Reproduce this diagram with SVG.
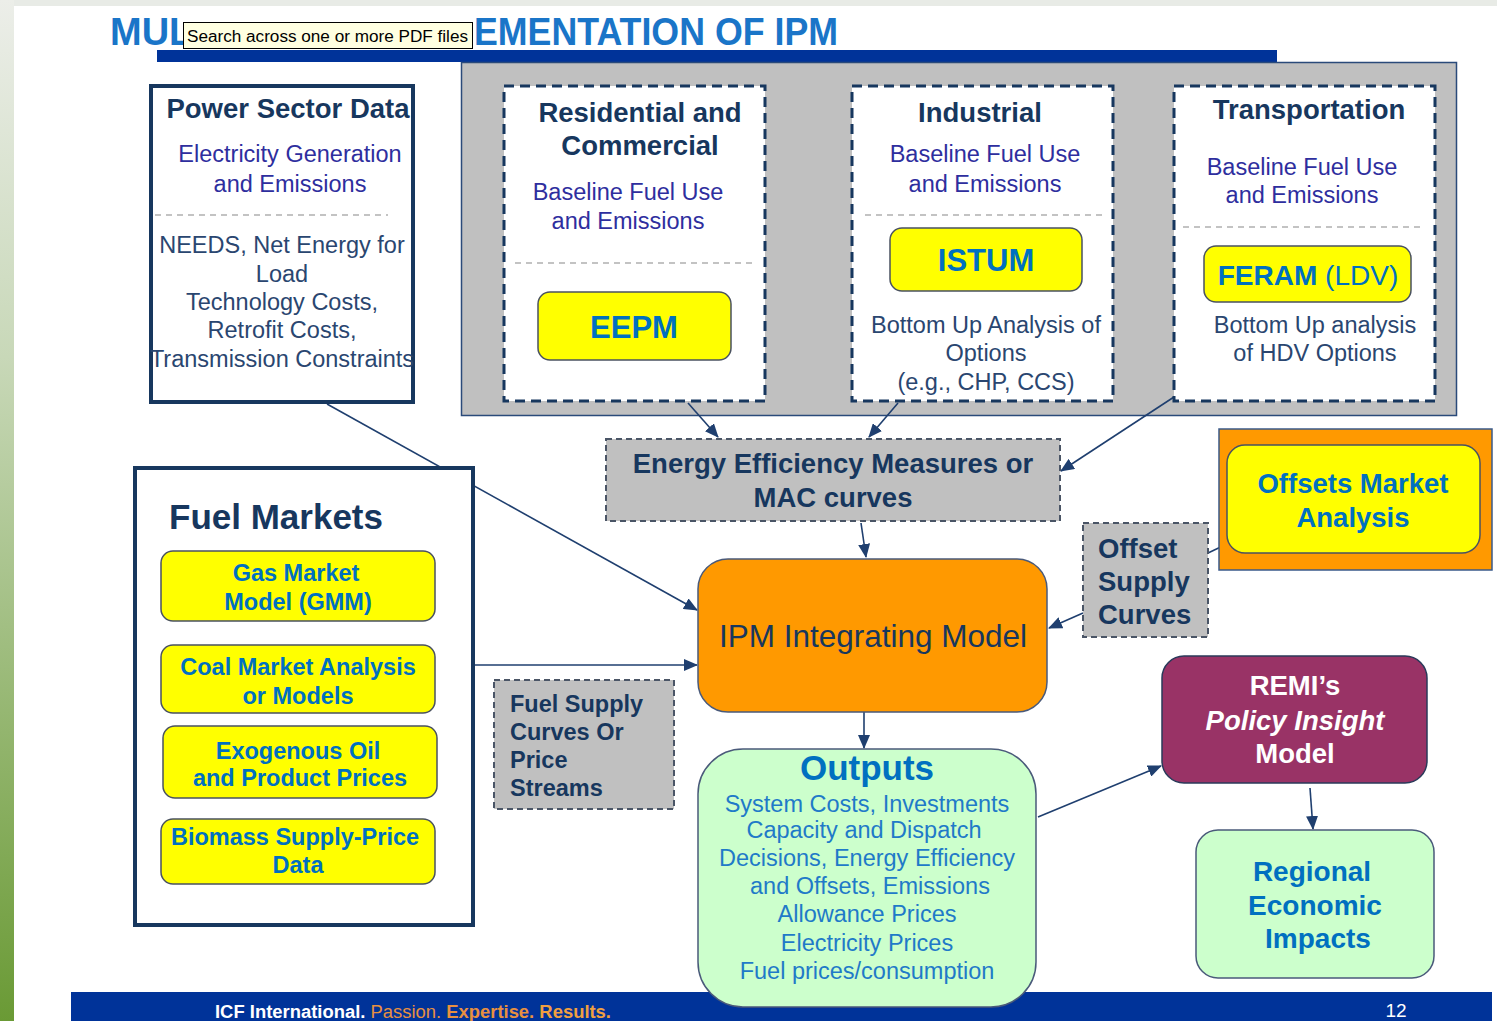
<svg xmlns="http://www.w3.org/2000/svg" width="1497" height="1021" viewBox="0 0 1497 1021">
<defs>
<linearGradient id="stripe" x1="0" y1="0" x2="0" y2="1">
<stop offset="0" stop-color="#eceee9"/>
<stop offset="0.35" stop-color="#c8d8b8"/>
<stop offset="1" stop-color="#6a9a35"/>
</linearGradient>
<marker id="arr" markerUnits="userSpaceOnUse" markerWidth="14" markerHeight="12" refX="13" refY="6" orient="auto">
<path d="M0,0 L14,6 L0,12 Z" fill="#1f3f6f"/>
</marker>
</defs>
<style>
text{font-family:"Liberation Sans",Arial,sans-serif}
.b{font-weight:bold}
.navy{fill:#17375e}
.ind{fill:#2e2e9e}
.slate{fill:#2a4670}
.blue{fill:#0070c0}
.lb{fill:#1f7ac8}
.c{text-anchor:middle}
.solid{fill:#fff;stroke:#17375e;stroke-width:4}
.dash{fill:#fff;stroke:#17375e;stroke-width:3;stroke-dasharray:10,6}
.gdash{fill:#c0c0c0;stroke:#4a5566;stroke-width:2;stroke-dasharray:6,4}
.sep{stroke:#b0b0b0;stroke-width:1.5;stroke-dasharray:6,5}
.yel{fill:#ffff00;stroke:#4a5260;stroke-width:1.5}
.con{stroke:#1f3f6f;stroke-width:1.6;fill:none}
</style>
<rect width="1497" height="1021" fill="#ffffff"/>
<rect x="0" y="0" width="1497" height="6" fill="#e8ebe6"/>
<rect x="0" y="0" width="14" height="1021" fill="url(#stripe)"/>

<g id="title">
<text x="110" y="45" font-size="38" class="b" fill="#1a75c8">MUL</text>
<text x="474" y="45" font-size="38" class="b" fill="#1a75c8" textLength="364" lengthAdjust="spacingAndGlyphs">EMENTATION OF IPM</text>
<rect x="157" y="50" width="1120" height="12" fill="#003399"/>
</g>
<g id="tooltip">
<rect x="183.5" y="22.5" width="289" height="26" fill="#ffffe1" stroke="#000" stroke-width="1"/>
<text x="187" y="42" font-size="16" fill="#000" font-family="DejaVu Sans, sans-serif" textLength="281" lengthAdjust="spacingAndGlyphs">Search across one or more PDF files</text>
</g>

<g id="footer">
<rect x="71" y="992" width="1421" height="29" fill="#003399"/>
<text x="215" y="1018" font-size="18" fill="#fff" font-family="Open Sans, sans-serif" font-weight="600" textLength="396" lengthAdjust="spacingAndGlyphs">ICF International. <tspan fill="#e89040" font-weight="normal">Passion.</tspan> <tspan fill="#e89040">Expertise.</tspan> <tspan fill="#f0a040" font-weight="bold">Results.</tspan></text>
<text x="1396" y="1017" font-size="19" fill="#fff" class="c">12</text>
</g>

<g id="sector-panel">
<rect x="461.5" y="62.5" width="995" height="353" fill="#c0c0c0" stroke="#2a4a7a" stroke-width="1.5"/>
</g>

<g id="connectors">
<line class="con" x1="327" y1="404" x2="697" y2="610" marker-end="url(#arr)"/>
<line class="con" x1="475" y1="665" x2="697" y2="665" marker-end="url(#arr)"/>
<line class="con" x1="688" y1="403" x2="718" y2="437" marker-end="url(#arr)"/>
<line class="con" x1="898" y1="403" x2="869" y2="437" marker-end="url(#arr)"/>
<line class="con" x1="1174" y1="397" x2="1061" y2="471" marker-end="url(#arr)"/>
<line class="con" x1="861" y1="523" x2="866" y2="557" marker-end="url(#arr)"/>
<line class="con" x1="1083" y1="613" x2="1049" y2="628" marker-end="url(#arr)"/>
<line class="con" x1="1227" y1="544" x2="1208" y2="553"/>
<line class="con" x1="864" y1="712" x2="864" y2="748" marker-end="url(#arr)"/>
<line class="con" x1="1038" y1="817" x2="1161" y2="766" marker-end="url(#arr)"/>
<line class="con" x1="1310" y1="788" x2="1313" y2="829" marker-end="url(#arr)"/>
</g>

<g id="power-sector">
<rect class="solid" x="151" y="86" width="262" height="316"/>
<text x="288" y="118" font-size="27.5" class="b navy c">Power Sector Data</text>
<text x="290" y="162" font-size="23.5" class="ind c">Electricity Generation</text>
<text x="290" y="192" font-size="23.5" class="ind c">and Emissions</text>
<line class="sep" x1="155" y1="215" x2="388" y2="215"/>
<text x="282" y="253" font-size="23.5" class="slate c">NEEDS, Net Energy for</text>
<text x="282" y="282" font-size="23.5" class="slate c">Load</text>
<text x="282" y="310" font-size="23.5" class="slate c">Technology Costs,</text>
<text x="282" y="338" font-size="23.5" class="slate c">Retrofit Costs,</text>
<text x="282" y="367" font-size="23.5" class="slate c">Transmission Constraints</text>
</g>

<g id="residential">
<rect class="dash" x="504" y="86" width="261" height="315"/>
<text x="640" y="122" font-size="27.5" class="b navy c">Residential and</text>
<text x="640" y="155" font-size="27.5" class="b navy c">Commercial</text>
<text x="628" y="200" font-size="23.5" class="ind c">Baseline Fuel Use</text>
<text x="628" y="229" font-size="23.5" class="ind c">and Emissions</text>
<line class="sep" x1="515" y1="263" x2="755" y2="263"/>
<rect class="yel" x="538" y="292" width="193" height="68" rx="12"/>
<text x="634" y="338" font-size="31" class="b blue c">EEPM</text>
</g>

<g id="industrial">
<rect class="dash" x="852" y="86" width="261" height="315"/>
<text x="980" y="122" font-size="27.5" class="b navy c">Industrial</text>
<text x="985" y="162" font-size="23.5" class="ind c">Baseline Fuel Use</text>
<text x="985" y="192" font-size="23.5" class="ind c">and Emissions</text>
<line class="sep" x1="865" y1="215" x2="1107" y2="215"/>
<rect class="yel" x="890" y="228" width="192" height="63" rx="12"/>
<text x="986" y="271" font-size="31" class="b blue c">ISTUM</text>
<text x="986" y="333" font-size="23.5" class="slate c">Bottom Up Analysis of</text>
<text x="986" y="361" font-size="23.5" class="slate c">Options</text>
<text x="986" y="390" font-size="23.5" class="slate c">(e.g., CHP, CCS)</text>
</g>

<g id="transportation">
<rect class="dash" x="1174" y="86" width="261" height="315"/>
<text x="1309" y="119" font-size="27.5" class="b navy c">Transportation</text>
<text x="1302" y="175" font-size="23.5" class="ind c">Baseline Fuel Use</text>
<text x="1302" y="203" font-size="23.5" class="ind c">and Emissions</text>
<line class="sep" x1="1183" y1="227" x2="1425" y2="227"/>
<rect class="yel" x="1204" y="246" width="207" height="56" rx="12"/>
<text x="1308" y="285" font-size="28" class="blue c"><tspan class="b">FERAM</tspan> (LDV)</text>
<text x="1315" y="333" font-size="23.5" class="slate c">Bottom Up analysis</text>
<text x="1315" y="361" font-size="23.5" class="slate c">of HDV Options</text>
</g>

<g id="energy-efficiency">
<rect class="gdash" x="606" y="439" width="454" height="82"/>
<text x="833" y="473" font-size="27.5" class="b navy c">Energy Efficiency Measures or</text>
<text x="833" y="507" font-size="27.5" class="b navy c">MAC curves</text>
</g>

<g id="offsets-market">
<rect x="1219" y="429" width="273" height="141" fill="#ff9900" stroke="#3a5a8a" stroke-width="1.5"/>
<rect class="yel" x="1227" y="445" width="253" height="108" rx="18"/>
<text x="1353" y="493" font-size="27.5" class="b blue c">Offsets Market</text>
<text x="1353" y="527" font-size="27.5" class="b blue c">Analysis</text>
</g>

<g id="offset-supply">
<rect class="gdash" x="1083" y="523" width="125" height="114"/>
<text x="1098" y="558" font-size="27.5" class="b navy">Offset</text>
<text x="1098" y="591" font-size="27.5" class="b navy">Supply</text>
<text x="1098" y="624" font-size="27.5" class="b navy">Curves</text>
</g>

<g id="ipm">
<rect x="698" y="559" width="349" height="153" rx="30" fill="#ff9900" stroke="#4a5a7a" stroke-width="1.5"/>
<text x="873" y="647" font-size="31.5" class="navy c">IPM Integrating Model</text>
</g>

<g id="fuel-markets">
<rect class="solid" x="135" y="468" width="338" height="457"/>
<text x="169" y="529" font-size="35" class="b navy">Fuel Markets</text>
<rect class="yel" x="161" y="551" width="274" height="70" rx="12"/>
<text x="296" y="581" font-size="23.5" class="b blue c">Gas Market</text>
<text x="298" y="610" font-size="23.5" class="b blue c">Model (GMM)</text>
<rect class="yel" x="161" y="645" width="274" height="68" rx="12"/>
<text x="298" y="675" font-size="23.5" class="b blue c">Coal Market Analysis</text>
<text x="298" y="704" font-size="23.5" class="b blue c">or Models</text>
<rect class="yel" x="163" y="726" width="274" height="72" rx="12"/>
<text x="298" y="759" font-size="23.5" class="b blue c">Exogenous Oil</text>
<text x="300" y="786" font-size="23.5" class="b blue c">and Product Prices</text>
<rect class="yel" x="161" y="819" width="274" height="65" rx="12"/>
<text x="295" y="845" font-size="23.5" class="b blue c">Biomass Supply-Price</text>
<text x="298" y="873" font-size="23.5" class="b blue c">Data</text>
</g>

<g id="fuel-supply">
<rect class="gdash" x="494" y="680" width="180" height="129"/>
<text x="510" y="712" font-size="23.5" class="b navy">Fuel Supply</text>
<text x="510" y="740" font-size="23.5" class="b navy">Curves Or</text>
<text x="510" y="768" font-size="23.5" class="b navy">Price</text>
<text x="510" y="796" font-size="23.5" class="b navy">Streams</text>
</g>

<g id="outputs">
<rect x="698" y="749" width="338" height="258" rx="45" fill="#ccffcc" stroke="#4a5a7a" stroke-width="1.5"/>
<text x="867" y="780" font-size="35" class="b blue c">Outputs</text>
<text x="867" y="812" font-size="23.5" class="lb c">System Costs, Investments</text>
<text x="864" y="838" font-size="23.5" class="lb c">Capacity and Dispatch</text>
<text x="867" y="866" font-size="23.5" class="lb c">Decisions, Energy Efficiency</text>
<text x="870" y="894" font-size="23.5" class="lb c">and Offsets, Emissions</text>
<text x="867" y="922" font-size="23.5" class="lb c">Allowance Prices</text>
<text x="867" y="951" font-size="23.5" class="lb c">Electricity Prices</text>
<text x="867" y="979" font-size="23.5" class="lb c">Fuel prices/consumption</text>
</g>

<g id="remi">
<rect x="1162" y="656" width="265" height="127" rx="22" fill="#993366" stroke="#2a3a5a" stroke-width="1.5"/>
<text x="1295" y="695" font-size="27.5" class="b c" fill="#fff">REMI’s</text>
<text x="1295" y="730" font-size="27.5" class="b c" fill="#fff" font-style="italic">Policy Insight</text>
<text x="1295" y="763" font-size="27.5" class="b c" fill="#fff">Model</text>
</g>

<g id="regional">
<rect x="1196" y="830" width="238" height="148" rx="22" fill="#ccffcc" stroke="#4a5a7a" stroke-width="1.5"/>
<text x="1312" y="881" font-size="28" class="b blue c">Regional</text>
<text x="1315" y="915" font-size="28" class="b blue c">Economic</text>
<text x="1318" y="948" font-size="28" class="b blue c">Impacts</text>
</g>
</svg>
